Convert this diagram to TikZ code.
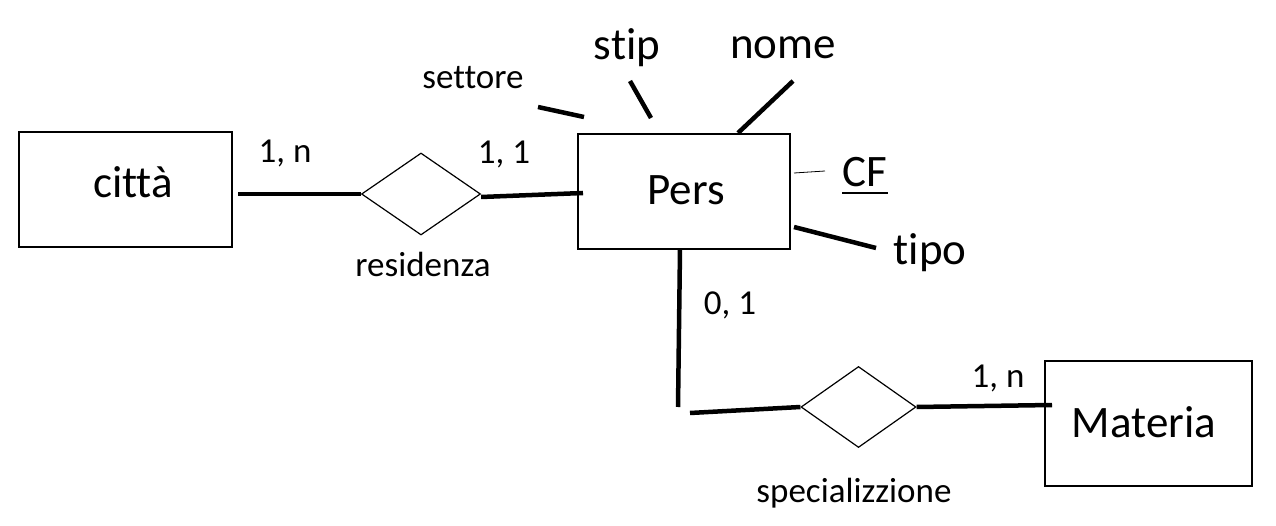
\documentclass[tikz,border=0pt]{standalone}
\usepackage{fontspec}
\setmainfont{Carlito}[Ligatures={NoCommon}]
\usetikzlibrary{shapes.geometric}
\begin{document}
\begin{tikzpicture}[x=1pt,y=-1pt,
  entity/.style={draw, line width=1.4pt, inner sep=0pt},
  rel/.style={draw, shape=diamond, line width=1.2pt, inner sep=0pt},
  big/.style={font=\fontsize{45}{52}\selectfont, inner sep=0pt, anchor=base},
  small/.style={font=\fontsize{35}{40}\selectfont, inner sep=0pt, anchor=base},
  link/.style={line width=4.5pt},
  thinlink/.style={line width=0.8pt}]
\useasboundingbox (0,0) rectangle (1276,526);
% entities
\node[entity, minimum width=213pt, minimum height=115pt] (citta) at (125.5,189.5) {};
\node[entity, minimum width=212pt, minimum height=115pt] (pers) at (684,191.5) {};
\node[entity, minimum width=207pt, minimum height=125pt] (mat) at (1148.5,423.5) {};
\node[big] (cittaT) at (133,198) {città};
\node[big] (persT) at (686,205) {Pers};
\node[big] (matT) at (1144,437) {Materia};
% relationships
\node[rel, minimum width=119pt, minimum height=82pt] (res) at (421,194) {};
\node[rel, minimum width=115pt, minimum height=81pt] (spec) at (858.5,407) {};
\node[small] (resT) at (423,277) {residenza};
\node[small] (specT) at (854,502) {specializzione};
% cardinalities
\node[small] (c1) at (285,163) {1, n};
\node[small] (c2) at (504,164) {1, 1};
\node[small] (c3) at (730,315) {0, 1};
\node[small] (c4) at (998,387) {1, n};
% attributes
\node[small] (settore) at (473,89) {settore};
\node[big] (stip) at (627,60) {stip};
\node[big] (nome) at (783,59) {nome};
\node[big] (cf) at (865,187) {CF};
\node[big] (tipo) at (930,265) {tipo};
\draw[line width=1.2pt] ([yshift=-6pt]cf.base west) -- ([yshift=-6pt]cf.base east);
% connector ends
\coordinate (citOut) at (238,194);
\coordinate (persIn) at (583,193);
\coordinate (persDown) at (680,249);
\coordinate (vBot) at (678,407);
\coordinate (hLeft) at (690,413);
\coordinate (matIn) at (1052,405);
\coordinate (set1) at (538,107);
\coordinate (set2) at (584,117);
\coordinate (stip1) at (630,81);
\coordinate (stip2) at (651,118);
\coordinate (nome1) at (793,81);
\coordinate (nome2) at (738,133);
\coordinate (cf1) at (794,173);
\coordinate (cf2) at (825,171);
\coordinate (tipo1) at (794,227);
\coordinate (tipo2) at (876,248);
% connectors
\draw[link] (citOut) -- (res.west);
\draw[link] ([yshift=-3pt]res.east) -- (persIn);
\draw[link] (persDown) -- (vBot);
\draw[link] (hLeft) -- (spec.west);
\draw[link] (spec.east) -- (matIn);
\draw[link] (set1) -- (set2);
\draw[link] (stip1) -- (stip2);
\draw[link] (nome1) -- (nome2);
\draw[thinlink] (cf1) -- (cf2);
\draw[link] (tipo1) -- (tipo2);
\end{tikzpicture}
\end{document}
